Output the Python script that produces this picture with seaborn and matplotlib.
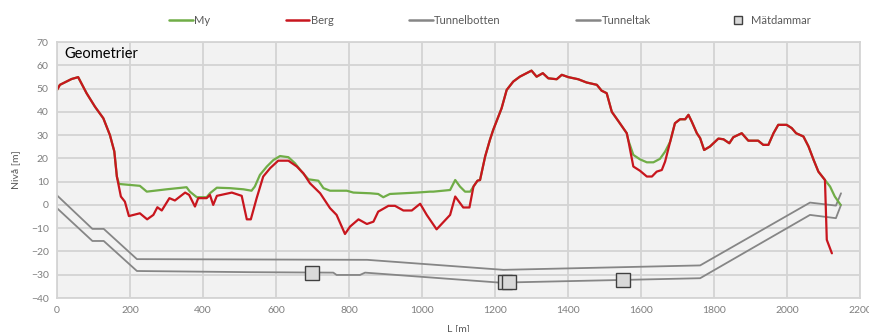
import matplotlib
matplotlib.use("Agg")
import matplotlib.pyplot as plt
import seaborn as sns
import pandas as pd
from matplotlib.lines import Line2D

# ---------------- data ----------------
berg_x = [0, 8, 40, 58, 81, 104, 127, 145, 157, 164, 175, 186, 197, 227, 247, 264, 275, 287,
          308, 323, 351, 362, 378, 387, 410, 419, 428, 438, 479, 506, 520, 531, 547, 565, 584,
          606, 634, 657, 675, 693, 721, 748, 766, 789, 803, 826, 849, 867, 880, 908, 926, 949,
          972, 995, 1013, 1040, 1077, 1091, 1113, 1130, 1141, 1152, 1159, 1173, 1186, 1195,
          1218, 1232, 1250, 1268, 1300, 1314, 1331, 1346, 1369, 1383, 1401, 1428, 1451, 1479,
          1492, 1506, 1520, 1538, 1561, 1565, 1579, 1597, 1616, 1630, 1643, 1657, 1666, 1680,
          1693, 1707, 1721, 1730, 1739, 1753, 1762, 1773, 1789, 1812, 1826, 1842, 1853, 1876,
          1894, 1921, 1935, 1949, 1963, 1976, 1999, 2013, 2025, 2045, 2059, 2073, 2086, 2100,
          2104, 2109, 2123]
berg_y = [49.4, 51.6, 54.1, 54.9, 48, 42.2, 37.2, 30, 23, 12.2, 3.6, 1.4, -4.8, -3.6, -6.2, -4.3,
          -1, -2.4, 2.9, 1.9, 5.3, 4.3, -0.7, 2.9, 2.9, 4.3, 0, 3.9, 5.3, 3.9, -6.2, -6.2, 2.9,
          12.2, 15.8, 19, 19, 16.5, 13.6, 9.3, 5, -1.4, -4.3, -12.5, -9.3, -6.2, -8.2, -7.2, -2.9,
          -0.4, -0.4, -2.4, -2.4, 0.5, -4.3, -10.5, -4.3, 3.6, -1.1, -1.1, 7.9, 10.4, 10.7, 20.8,
          27.9, 32.2, 41.5, 49.4, 53, 55.1, 57.7, 55.1, 56.6, 54.4, 54, 55.9, 54.9, 54, 52.6,
          51.6, 49.1, 48, 40, 36, 30.8, 27.9, 16.5, 14.7, 12.2, 12.2, 14.3, 15, 18.6, 27.2,
          35.1, 36.8, 36.8, 38.7, 35.8, 30.8, 28.7, 23.6, 25.1, 28.5, 28.2, 26.5, 29.1, 30.8,
          27.6, 27.6, 25.8, 25.8, 30.8, 34.4, 34.4, 33, 30.8, 29.4, 25.1, 19.3, 14.3, 11.5,
          10.7, -15, -20.8]

my_x = [0, 8, 40, 58, 81, 104, 127, 145, 157, 164, 170, 227, 246, 300, 355, 364, 383, 410, 419,
        438, 474, 511, 533, 542, 556, 575, 593, 611, 634, 652, 670, 689, 716, 730, 748, 794,
        812, 858, 880, 894, 912, 949, 986, 1022, 1031, 1077, 1091, 1104, 1118, 1132, 1141,
        1152, 1159, 1173, 1186, 1195, 1218, 1232, 1250, 1268, 1300, 1314, 1331, 1346, 1369,
        1383, 1401, 1428, 1451, 1479, 1492, 1506, 1520, 1538, 1561, 1565, 1579, 1597, 1616,
        1634, 1652, 1666, 1680, 1693, 1707, 1721, 1730, 1739, 1753, 1762, 1773, 1789, 1812,
        1826, 1842, 1853, 1876, 1894, 1921, 1935, 1949, 1963, 1976, 1999, 2013, 2025, 2045,
        2059, 2073, 2086, 2100, 2104, 2118, 2131, 2147]
my_y = [49.4, 51.6, 54.1, 54.9, 48, 42.2, 37.2, 30, 23, 12.2, 9.0, 8.2, 5.7, 6.7, 7.6, 5.7, 3.3,
        3.3, 5, 7.4, 7.2, 6.7, 6.1, 7.9, 12.9, 16.5, 19.3, 21, 20.5, 17.9, 14.3, 11, 10.4, 7.2,
        6.1, 6.1, 5.3, 5, 4.7, 3.3, 4.7, 5, 5.3, 5.7, 5.7, 6.4, 10.7, 7.9, 5.7, 5.7, 7.9, 10.4,
        10.7, 20.8, 27.9, 32.2, 41.5, 49.4, 53, 55.1, 57.7, 55.1, 56.6, 54.4, 54, 55.9, 54.9,
        54, 52.6, 51.6, 49.1, 48, 40, 36, 30.8, 27.9, 21.5, 19.6, 18.3, 18.3, 19.8, 22.9, 27.2,
        35.1, 36.8, 36.8, 38.7, 35.8, 30.8, 28.7, 23.6, 25.1, 28.5, 28.2, 26.5, 29.1, 30.8,
        27.6, 27.6, 25.8, 25.8, 30.8, 34.4, 34.4, 33, 30.8, 29.4, 25.1, 19.3, 14.3, 11.5, 10.7,
        7.9, 3.6, 0]

botten_x = [0, 97, 128, 219, 529, 757, 766, 830, 844, 1214, 1762, 2063, 2134, 2148]
botten_y = [-1.4, -15.5, -15.5, -28.4, -28.9, -29.1, -30.1, -30.1, -29.1, -33.4, -31.5, -4.3, -5.7, 0]

tak_x = [0, 97, 128, 219, 850, 1223, 1762, 2063, 2134, 2148]
tak_y = [4.1, -10.3, -10.3, -23.3, -23.6, -27.9, -26, 1, -0.3, 5]

dam_x = [698, 1227, 1238, 1552]
dam_y = [-29.4, -33.3, -33.3, -32.2]

x_ticks = list(range(0, 2201, 200))
y_ticks = list(range(-40, 71, 10))

# ---------------- style ----------------
sns.set_theme(style="white")
plt.rcParams['font.family'] = ['Lato', 'DejaVu Sans']

GREEN = "#70ad47"
RED = "#c8161e"
GREY = "#868686"
TICK = "#7f7f7f"

fig = plt.figure(figsize=(8.7, 3.32), dpi=100)
ax = fig.add_axes([57 / 870, 34 / 332, 803 / 870, 256 / 332])
ax.set_facecolor("#f2f2f2")

df_my = pd.DataFrame({"L": my_x, "niva": my_y})
df_berg = pd.DataFrame({"L": berg_x, "niva": berg_y})
df_bot = pd.DataFrame({"L": botten_x, "niva": botten_y})
df_tak = pd.DataFrame({"L": tak_x, "niva": tak_y})
df_dam = pd.DataFrame({"L": dam_x, "niva": dam_y})

sns.lineplot(data=df_bot, x="L", y="niva", sort=False, estimator=None, color=GREY, lw=1.3, ax=ax)
sns.lineplot(data=df_tak, x="L", y="niva", sort=False, estimator=None, color=GREY, lw=1.3, ax=ax)
sns.lineplot(data=df_my, x="L", y="niva", sort=False, estimator=None, color=GREEN, lw=1.6, ax=ax)
sns.lineplot(data=df_berg, x="L", y="niva", sort=False, estimator=None, color=RED, lw=1.6, ax=ax)
ax.plot(df_dam["L"], df_dam["niva"], ls="none", marker="s", ms=9.5,
        mfc="#d9d9d9", mec="#404040", mew=1.0, zorder=5)

ax.set_xlim(0, 2200)
ax.set_ylim(-40, 70)
ax.set_xticks(x_ticks)
ax.set_yticks(y_ticks)
ax.grid(True, color="#d4d4d4", lw=1.3)
ax.set_axisbelow(True)
for s in ax.spines.values():
    s.set_color("#d4d4d4")
    s.set_linewidth(1.3)
ax.tick_params(axis="both", colors=TICK, labelsize=7.5, length=0, pad=6)

ax.set_xlabel("L [m]", fontsize=7.5, color="#595959", labelpad=6)
ax.set_ylabel("Nivå [m]", fontsize=7.5, color="#595959", labelpad=8)

ax.text(0.009, 0.982, "Geometrier", transform=ax.transAxes, ha="left", va="top",
        fontsize=10.5, color="#000000")

handles = [
    Line2D([], [], color=GREEN, lw=1.8),
    Line2D([], [], color=RED, lw=1.8),
    Line2D([], [], color=GREY, lw=1.8),
    Line2D([], [], color=GREY, lw=1.8),
    Line2D([], [], ls="none", marker="s", ms=6, mfc="#d9d9d9", mec="#404040", mew=1.0),
]
labels = ["My", "Berg", "Tunnelbotten", "Tunneltak", "Mätdammar"]
leg = fig.legend(handles, labels, loc="center", bbox_to_anchor=(490 / 870, 1 - 20 / 332),
                 ncol=5, frameon=False, fontsize=8, handlelength=2.1, handletextpad=0.15,
                 columnspacing=6.8)
for t in leg.get_texts():
    t.set_color("#595959")

fig.savefig("out.png", dpi=100)
